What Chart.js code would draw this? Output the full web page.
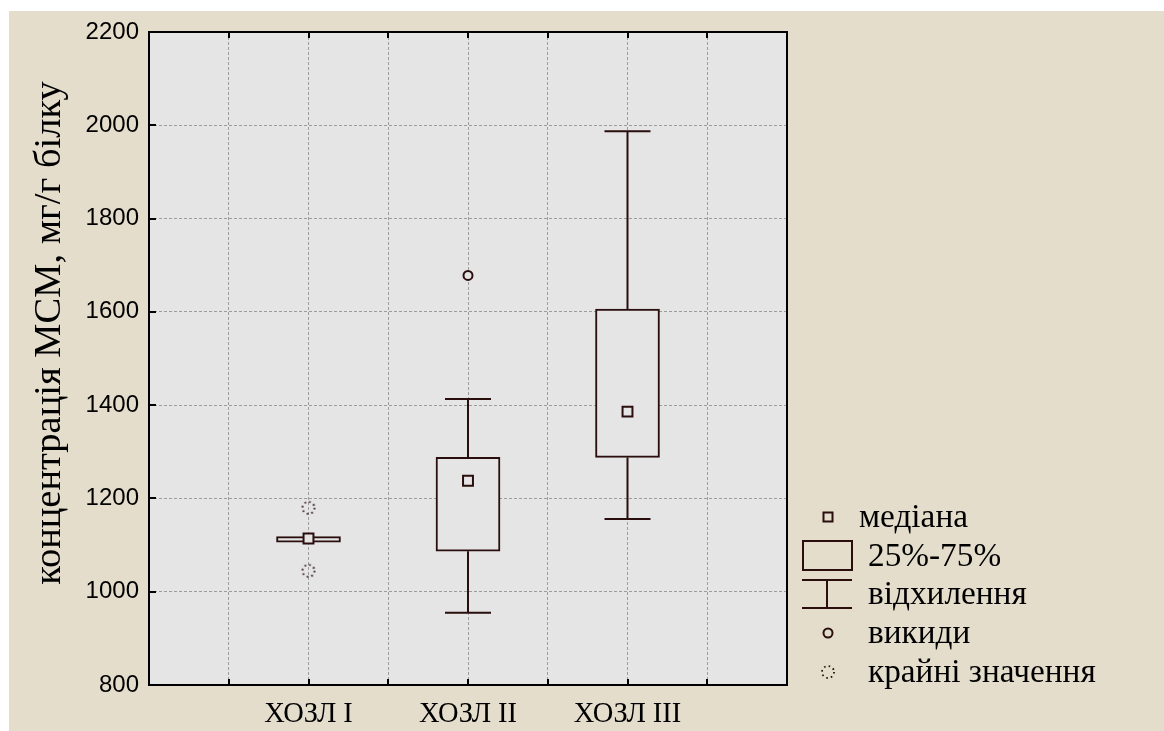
<!DOCTYPE html>
<html><head><meta charset="utf-8">
<script src="https://cdn.jsdelivr.net/npm/chart.js@4.4.1/dist/chart.umd.min.js"></script>
<style>
html,body{margin:0;padding:0;background:#fff;width:1164px;height:731px;overflow:hidden;}
#frame{position:absolute;left:9px;top:11px;width:1155px;height:720px;background:#E4DDCC;}
#c{position:absolute;left:0;top:0;}
#ov{position:absolute;left:0;top:0;pointer-events:none;}
</style></head><body>
<div id="frame"><canvas id="c" width="1155" height="720"></canvas></div>
<svg id="ov" width="1164" height="731" xmlns="http://www.w3.org/2000/svg">
  <g font-family="'Liberation Serif','Times New Roman',serif" fill="#000">
    <text transform="translate(60,333) rotate(-90)" text-anchor="middle" font-size="38.5">концентрація МСМ, мг/г білку</text>
  </g>
  <g stroke="#2A0E0E" stroke-width="2" fill="none">
    <rect x="823.5" y="512.5" width="9" height="9"/>
    <rect x="803" y="541" width="49" height="29"/>
    <line x1="802" y1="580" x2="852" y2="580"/>
    <line x1="827" y1="580" x2="827" y2="608"/>
    <line x1="802" y1="608" x2="852" y2="608"/>
    <circle cx="828" cy="633" r="4.5"/>
    <circle cx="828" cy="672" r="6" stroke-width="1.8" stroke-dasharray="1.6 3.1"/>
  </g>
  <g font-family="'Liberation Serif','Times New Roman',serif" font-size="33.3" fill="#000">
    <text x="859" y="527">медіана</text>
    <text x="868" y="566">25%-75%</text>
    <text x="868" y="604">відхилення</text>
    <text x="868" y="643">викиди</text>
    <text x="868" y="682">крайні значення</text>
  </g>
</svg>
<script>
// ---- data ----
const categories = ['ХОЗЛ I', 'ХОЗЛ II', 'ХОЗЛ III'];
const medians = [1114, 1238, 1386];
const q1 = [1106, 1087, 1288];
const q3 = [1118, 1288, 1606];
const whiskerLow = [1106, 955, 1156];
const whiskerHigh = [1118, 1413, 1987];
const outliers = [[], [1678], []];
const extremes = [[1180, 1045], [], []];
const yMin = 800, yMax = 2200, yStep = 200;

// ---- styles ----
const DARK = '#2A0E0E';
const PLOT_BG = '#E5E5E5';
const GRID = '#9C9C9C';
const xOf = i => (i + 1) * 2;
const xMax = (categories.length + 1) * 2;

function extremeStyle() {
  const c = document.createElement('canvas');
  c.width = 18; c.height = 18;
  const g = c.getContext('2d');
  g.strokeStyle = DARK; g.lineWidth = 1.8;
  g.setLineDash([1.6, 3.1]);
  g.beginPath(); g.arc(9, 9, 6, 0, Math.PI * 2); g.stroke();
  return c;
}

const decor = {
  id: 'decor',
  beforeDraw(chart) {
    const a = chart.chartArea, ctx = chart.ctx;
    ctx.save(); ctx.fillStyle = PLOT_BG;
    ctx.fillRect(a.left, a.top, a.right - a.left, a.bottom - a.top);
    ctx.restore();
  },
  beforeDatasetsDraw(chart) {
    const xs = chart.scales.x, ys = chart.scales.y, ctx = chart.ctx;
    ctx.save(); ctx.strokeStyle = DARK; ctx.lineWidth = 2;
    const cap = 23;
    categories.forEach((c, i) => {
      const x = xs.getPixelForValue(xOf(i));
      const pairs = [[q3[i], whiskerHigh[i]], [q1[i], whiskerLow[i]]];
      pairs.forEach(([from, to]) => {
        if (from === to) return;
        const y0 = ys.getPixelForValue(from), y1 = ys.getPixelForValue(to);
        ctx.beginPath();
        ctx.moveTo(x, y0); ctx.lineTo(x, y1);
        ctx.moveTo(x - cap, y1); ctx.lineTo(x + cap, y1);
        ctx.stroke();
      });
    });
    ctx.restore();
  },
  afterDraw(chart) {
    const a = chart.chartArea, ctx = chart.ctx;
    const xs = chart.scales.x, ys = chart.scales.y;
    ctx.save(); ctx.strokeStyle = '#000'; ctx.lineWidth = 2;
    ctx.beginPath();
    xs.ticks.forEach(t => {
      if (t.value <= 0 || t.value >= xMax) return;
      const x = Math.round(xs.getPixelForValue(t.value));
      ctx.moveTo(x, a.bottom); ctx.lineTo(x, a.bottom - 6);
      ctx.moveTo(x, a.top); ctx.lineTo(x, a.top + 6);
    });
    ys.ticks.forEach(t => {
      if (t.value <= yMin || t.value >= yMax) return;
      const y = Math.round(ys.getPixelForValue(t.value));
      ctx.moveTo(a.left, y); ctx.lineTo(a.left + 7, y);
    });
    ctx.stroke();
    ctx.strokeRect(a.left, a.top, a.right - a.left, a.bottom - a.top);
    ctx.restore();
  }
};

const extremePts = [], outlierPts = [];
categories.forEach((c, i) => {
  extremes[i].forEach(v => extremePts.push({x: xOf(i), y: v}));
  outliers[i].forEach(v => outlierPts.push({x: xOf(i), y: v}));
});

const noOverhang = s => { s.paddingTop = 0; s.paddingBottom = 0; s.paddingLeft = 0; s.paddingRight = 0; };

new Chart(document.getElementById('c'), {
  type: 'bar',
  data: {
    datasets: [
      {
        type: 'bar', label: '25%-75%', order: 3,
        data: categories.map((c, i) => ({x: xOf(i), y: [q1[i], q3[i]]})),
        backgroundColor: PLOT_BG, borderColor: DARK, borderWidth: 2,
        borderSkipped: false, barThickness: 64
      },
      {
        type: 'scatter', label: 'медіана', order: 0,
        data: categories.map((c, i) => ({x: xOf(i), y: medians[i]})),
        pointStyle: 'rect', radius: 7, borderWidth: 2,
        borderColor: DARK, backgroundColor: PLOT_BG
      },
      {
        type: 'scatter', label: 'викиди', order: 1,
        data: outlierPts,
        pointStyle: 'circle', radius: 4.5, borderWidth: 2,
        borderColor: DARK, backgroundColor: PLOT_BG
      },
      {
        type: 'scatter', label: 'крайні значення', order: 1,
        data: extremePts,
        pointStyle: extremeStyle(), radius: 6
      }
    ]
  },
  options: {
    responsive: false, animation: false,
    layout: {padding: {left: 0, top: 21, right: 377, bottom: 0}},
    plugins: {legend: {display: false}, tooltip: {enabled: false}},
    scales: {
      x: {
        type: 'linear', min: 0, max: xMax, offset: false,
        ticks: {
          stepSize: 1, autoSkip: false, maxRotation: 0, padding: 12, color: '#000',
          font: {family: "'Liberation Serif','Times New Roman',serif", size: 28.5},
          callback: v => { const i = v / 2 - 1; return (Number.isInteger(i) && categories[i]) || ''; }
        },
        grid: {color: GRID, lineWidth: 1, drawTicks: false, offset: false},
        border: {display: false, dash: [3, 2]},
        afterFit: s => { s.height = 46; noOverhang(s); }
      },
      y: {
        min: yMin, max: yMax,
        ticks: {
          stepSize: yStep, padding: 10, color: '#000',
          font: {family: "'Liberation Sans',Arial,sans-serif", size: 24},
          callback: v => String(v)
        },
        grid: {color: GRID, lineWidth: 1, drawTicks: false},
        border: {display: false, dash: [3, 2]},
        afterFit: s => { s.width = 140; noOverhang(s); }
      }
    }
  },
  plugins: [decor]
});
</script>
</body></html>
